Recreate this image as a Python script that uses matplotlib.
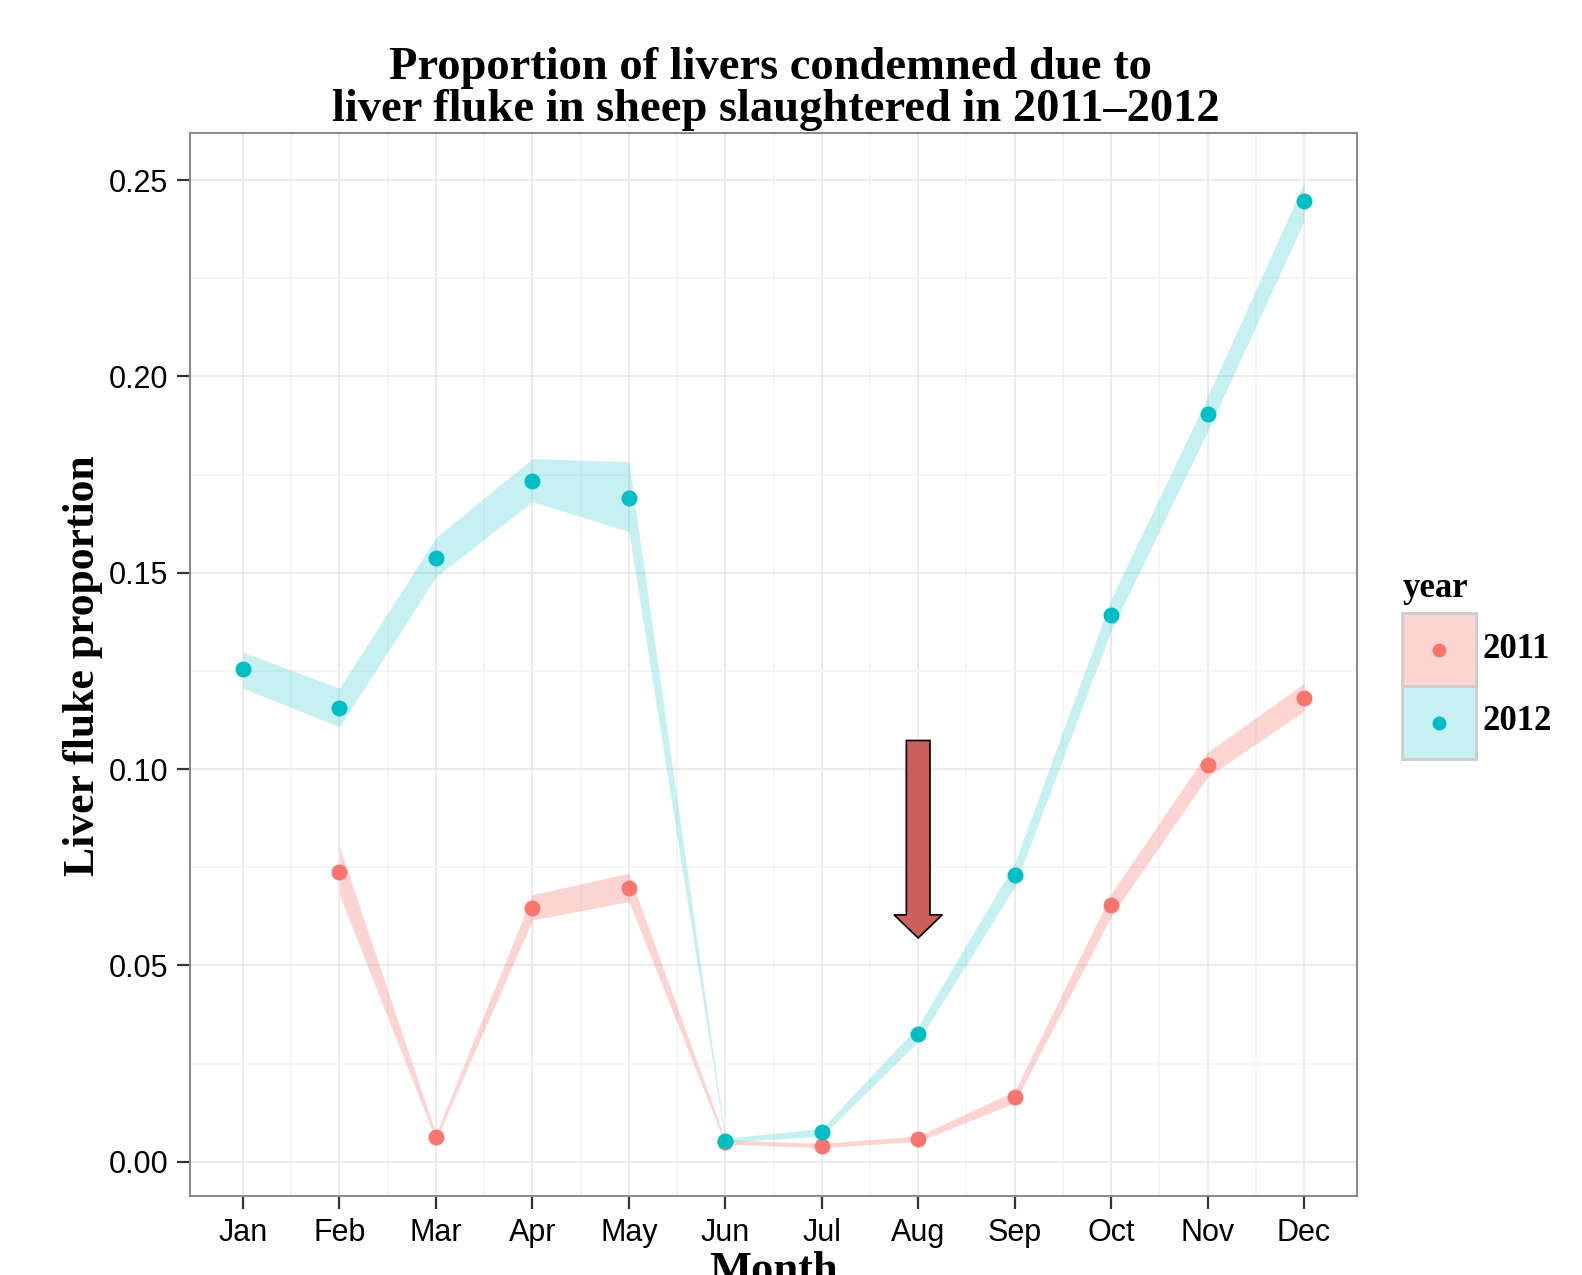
import numpy as np
import matplotlib
matplotlib.use("Agg")
import matplotlib.pyplot as plt
from matplotlib.patches import Rectangle, FancyArrow

# Data
months = ["Jan", "Feb", "Mar", "Apr", "May", "Jun",
          "Jul", "Aug", "Sep", "Oct", "Nov", "Dec"]
month_num = np.arange(1, 13)

p2011 = [np.nan, 0.0739, 0.0063, 0.0647, 0.0697, 0.0050,
         0.0041, 0.0059, 0.0165, 0.0653, 0.1010, 0.1182]
lo2011 = [np.nan, 0.0680, 0.0055, 0.0616, 0.0663, 0.0045,
          0.0036, 0.0052, 0.0150, 0.0625, 0.0980, 0.1148]
hi2011 = [np.nan, 0.0803, 0.0071, 0.0680, 0.0735, 0.0056,
          0.0047, 0.0066, 0.0180, 0.0683, 0.1043, 0.1218]

p2012 = [0.1254, 0.1155, 0.1537, 0.1735, 0.1690, 0.0054,
         0.0075, 0.0326, 0.0730, 0.1393, 0.1904, 0.2447]
lo2012 = [0.1206, 0.1108, 0.1490, 0.1681, 0.1605, 0.0050,
          0.0065, 0.0306, 0.0700, 0.1353, 0.1860, 0.2394]
hi2012 = [0.1298, 0.1206, 0.1590, 0.1791, 0.1783, 0.0060,
          0.0085, 0.0346, 0.0760, 0.1433, 0.1948, 0.2493]

years = ["2011", "2012"]
colors = ["#F8766D", "#00BFC4"]
alphas = [0.3, 0.22]

# arrow annotation (month index, top, tip)
arrow_month = 8
arrow_top = 0.1073
arrow_tip = 0.0570

serif = "Liberation Serif"
sans = "Liberation Sans"

fig = plt.figure(figsize=(15.82, 12.75), dpi=100)
ax = fig.add_axes([190 / 1582, 1 - 1196 / 1275, 1167 / 1582, 1063 / 1275])

series = [(p2011, lo2011, hi2011), (p2012, lo2012, hi2012)]
for (p, lo, hi), c, a in zip(series, colors, alphas):
    ax.fill_between(month_num, lo, hi, color=c, alpha=a, lw=0, zorder=2)
    ax.plot(month_num, p, "o", color=c, ms=11.5, mew=0, zorder=4)

ax.add_patch(FancyArrow(arrow_month, arrow_top, 0, arrow_tip - arrow_top,
                        width=0.245, head_width=0.5, head_length=0.0059,
                        length_includes_head=True, fc="#CD5F5A", ec="black",
                        lw=1.2, zorder=5))

ax.set_xlim(0.45, 12.55)
ax.set_ylim(-0.0087, 0.262)
ax.set_xticks(month_num)
ax.set_xticklabels(months)
ax.set_yticks(np.arange(0, 0.26, 0.05))
ax.set_yticklabels(["%.2f" % v for v in np.arange(0, 0.26, 0.05)])
ax.set_xticks(month_num[:-1] + 0.5, minor=True)
ax.set_yticks(np.arange(0.025, 0.25, 0.05), minor=True)
ax.tick_params(which="major", length=9.5, width=1.6, color="#333333",
               labelsize=22, pad=6)
ax.tick_params(which="minor", length=0)
for lab in ax.get_xticklabels() + ax.get_yticklabels():
    lab.set_fontfamily(sans)
ax.grid(which="major", color="#E8E8E8", lw=1.2, zorder=0)
ax.grid(which="minor", color="#F4F4F4", lw=1.2, zorder=0)
ax.set_axisbelow(True)
for s in ax.spines.values():
    s.set_color("#8C8C8C")
    s.set_linewidth(1.5)

# titles
fig.text(770 / 1582, 1 - 79 / 1275, "Proportion of livers condemned due to",
         ha="center", va="baseline", fontsize=33.5, fontweight="bold", family=serif)
fig.text(776 / 1582, 1 - 121 / 1275, "liver fluke in sheep slaughtered in 2011\u20132012",
         ha="center", va="baseline", fontsize=33.5, fontweight="bold", family=serif)
fig.text(83 / 1582, 1 - 666 / 1275, "Liver fluke proportion", rotation=90,
         ha="center", va="center", fontsize=31.5, fontweight="bold", family=serif)
fig.text(774 / 1582, 1 - 1282 / 1275, "Month", ha="center", va="baseline",
         fontsize=32, fontweight="bold", family=serif)

# legend
lax = fig.add_axes([1402 / 1582, 1 - 759 / 1275, 74 / 1582, 146 / 1275])
lax.set_xlim(0, 1)
lax.set_ylim(0, 2)
lax.axis("off")
for i, (yr, c, a) in enumerate(zip(years, colors, alphas)):
    y0 = 1 - i
    lax.add_patch(Rectangle((0, y0), 1, 1, fc="white", ec="none", clip_on=False))
    lax.add_patch(Rectangle((0, y0), 1, 1, fc=c, alpha=a, ec="none", clip_on=False))
    lax.add_patch(Rectangle((0, y0), 1, 1, fc="none", ec="#CCCCCC", lw=2, clip_on=False))
    lax.plot(0.5, y0 + 0.5, "o", color=c, ms=10, mew=0, clip_on=False)
    fig.text(1483 / 1582, 1 - (650 + 72 * i) / 1275, yr, ha="left", va="center",
             fontsize=25, fontweight="bold", family=serif)
fig.text(1403 / 1582, 1 - 597 / 1275, "year", ha="left", va="baseline",
         fontsize=25, fontweight="bold", family=serif)

fig.savefig("out.png", dpi=100)
